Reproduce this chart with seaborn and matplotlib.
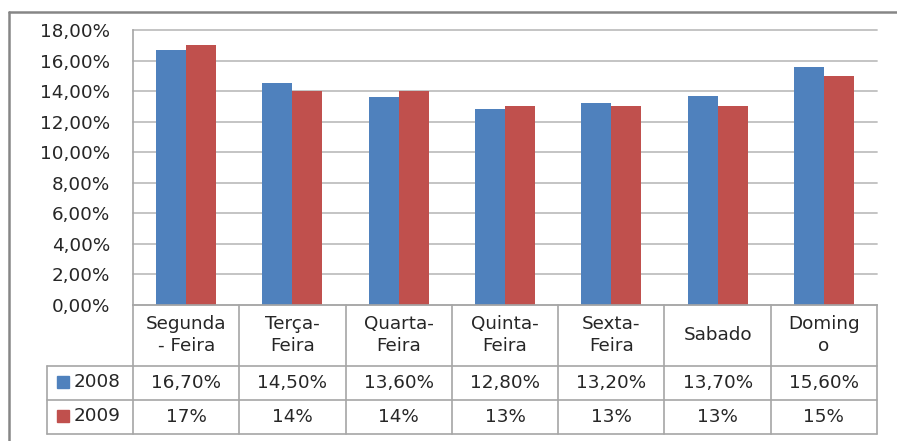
import numpy as np
import pandas as pd
import seaborn as sns
import matplotlib.pyplot as plt
from matplotlib.lines import Line2D
from matplotlib.patches import Rectangle
from matplotlib.ticker import FuncFormatter
import matplotlib.transforms as mtransforms

dias = ["Segunda\n- Feira", "Terça-\nFeira", "Quarta-\nFeira", "Quinta-\nFeira",
        "Sexta-\nFeira", "Sabado", "Doming\no"]
anos = ["2008", "2009"]
valores_2008 = [0.167, 0.145, 0.136, 0.128, 0.132, 0.137, 0.156]
valores_2009 = [0.17, 0.14, 0.14, 0.13, 0.13, 0.13, 0.15]
cores = ["#4F81BD", "#C0504D"]

df = pd.DataFrame({
    "dia": dias * 2,
    "ano": [anos[0]] * len(dias) + [anos[1]] * len(dias),
    "valor": valores_2008 + valores_2009,
})

sns.set_style("white")
plt.rcParams["font.family"] = ["DejaVu Sans"]
FS = 13.2
TXT = "#262626"
GRID = "#BFBFBF"
TAB = "#A6A6A6"

fig = plt.figure(figsize=(8.97, 4.41), dpi=100)
W, H = 897, 441
ax = fig.add_axes([133 / W, (H - 305) / H, (877 - 133) / W, (305 - 30) / H])

sns.barplot(data=df, x="dia", y="valor", hue="ano", palette=cores,
            width=0.565, gap=0, ax=ax, legend=False, edgecolor="none",
            saturation=1)

ax.set_xlim(-0.5, len(dias) - 0.5)
ax.set_ylim(0, 0.18)
ax.set_yticks(np.arange(0, 0.181, 0.02))
ax.yaxis.set_major_formatter(FuncFormatter(lambda v, p: f"{v*100:.2f}%".replace(".", ",")))
ax.tick_params(axis="y", length=0, pad=16.5, labelsize=FS, labelcolor=TXT)
ax.set_xticks([])
ax.set_xlabel("")
ax.set_ylabel("")
ax.yaxis.grid(True, color=GRID, linewidth=1.3)
for gl in ax.get_ygridlines():
    gl.set_clip_on(False)
ax.set_axisbelow(True)
for s in ["top", "right"]:
    ax.spines[s].set_visible(False)
ax.spines["left"].set_color(TAB)
ax.spines["bottom"].set_color(TAB)
ax.spines["left"].set_linewidth(1.2)
ax.spines["bottom"].set_linewidth(1.2)

# data table below the axis
px_y = lambda py: (305 - py) / 275
px_x = lambda px: (px - 133) / 744
blend = mtransforms.blended_transform_factory(ax.transData, ax.transAxes)

y_rows = [px_y(366), px_y(400), px_y(434)]
for y in y_rows:
    ax.add_line(Line2D([px_x(47), 1], [y, y], transform=ax.transAxes,
                       color=TAB, lw=1.2, clip_on=False))
ax.add_line(Line2D([px_x(47), px_x(47)], [y_rows[0], y_rows[2]],
                   transform=ax.transAxes, color=TAB, lw=1.2, clip_on=False))
for i in range(len(dias) + 1):
    ax.add_line(Line2D([i - 0.5, i - 0.5], [0, y_rows[2]], transform=blend,
                       color=TAB, lw=1.2, clip_on=False))

for i, d in enumerate(dias):
    ax.text(i, px_y(335), d, transform=blend, ha="center", va="center",
            fontsize=FS, color=TXT, linespacing=1.25)
    ax.text(i, px_y(383), f"{valores_2008[i]*100:.2f}%".replace(".", ","),
            transform=blend, ha="center", va="center", fontsize=FS, color=TXT)
    ax.text(i, px_y(417), f"{valores_2009[i]*100:.0f}%",
            transform=blend, ha="center", va="center", fontsize=FS, color=TXT)

for ano, cor, yc in zip(anos, cores, [382, 416]):
    ax.add_patch(Rectangle((px_x(57), px_y(yc + 6)), 12 / 744, 12 / 275,
                           transform=ax.transAxes, color=cor, clip_on=False))
    ax.text(px_x(74), px_y(yc), ano, transform=ax.transAxes, ha="left",
            va="center", fontsize=FS, color=TXT)

# chart border (top and left visible)
fig.add_artist(Line2D([9 / W, 1], [1 - 12 / H, 1 - 12 / H], color="#868686", lw=1.8))
fig.add_artist(Line2D([9 / W, 9 / W], [0, 1 - 12 / H], color="#868686", lw=1.8))

fig.savefig("out.png", dpi=100)
